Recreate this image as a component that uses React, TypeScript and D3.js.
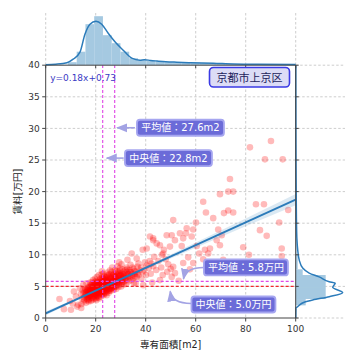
import React from 'react';
import * as d3 from 'd3';

// 専有面積[m2], 賃料[万円] — listings
const listings: [number, number][] = [
  [5.5, 3.0], [7.3, 1.4], [10.1, 1.3], [9.7, 2.7], [12.1, 3.4], [11.3, 4.2], [13.0, 2.1], [13.7, 4.7], [12.6, 1.8], [10.8, 2.3], [14.2, 1.6],
  [14.3, 2.2], [14.6, 3.1], [14.1, 3.8], [14.8, 4.4], [15.2, 2.6], [15.5, 3.3], [15.1, 3.9], [15.7, 4.6], [15.0, 5.2], [15.4, 2.9], [15.8, 3.6],
  [16.1, 2.4], [16.4, 3.0], [16.6, 3.6], [16.2, 4.1], [16.8, 4.8], [16.3, 5.5], [16.5, 3.3], [16.9, 3.9], [16.0, 4.5],
  [17.2, 2.9], [17.5, 3.4], [17.1, 3.8], [17.6, 4.3], [17.3, 4.9], [17.8, 5.6], [17.4, 3.1], [17.0, 4.6], [17.7, 4.0], [17.9, 5.2], [17.2, 2.6],
  [18.1, 2.7], [18.4, 3.2], [18.6, 3.7], [18.2, 4.0], [18.8, 4.4], [18.3, 4.9], [18.5, 5.3], [18.9, 6.0], [18.0, 3.5], [18.7, 4.7], [18.4, 4.2], [18.6, 5.7], [18.2, 3.9],
  [19.1, 3.0], [19.5, 3.5], [19.3, 3.9], [19.8, 4.2], [19.0, 4.6], [19.6, 5.0], [19.2, 5.5], [19.7, 6.2], [19.4, 4.4], [19.9, 3.3], [19.5, 4.8], [19.1, 5.2], [19.8, 3.7], [19.3, 4.1],
  [20.0, 3.1], [20.3, 3.6], [20.6, 4.0], [20.2, 4.3], [20.8, 4.7], [20.4, 5.1], [20.7, 5.4], [20.1, 5.9], [20.5, 6.5], [20.9, 4.5], [20.3, 3.8], [20.6, 4.9], [20.0, 4.4], [20.8, 5.2], [20.2, 2.8],
  [21.2, 3.3], [21.5, 3.8], [21.0, 4.1], [21.7, 4.5], [21.4, 4.8], [21.8, 5.2], [21.1, 5.6], [21.6, 6.1], [21.3, 6.8], [21.9, 4.3], [21.5, 5.0], [21.2, 4.6], [21.7, 5.4], [21.0, 3.6],
  [22.1, 3.4], [22.5, 3.9], [22.3, 4.3], [22.8, 4.6], [22.0, 5.0], [22.6, 5.3], [22.2, 5.7], [22.9, 6.2], [22.4, 6.9], [22.7, 4.8], [22.1, 5.5], [22.5, 7.4], [22.8, 4.1], [22.3, 5.9],
  [23.2, 3.6], [23.6, 4.1], [23.1, 4.5], [23.8, 4.9], [23.4, 5.2], [23.9, 5.5], [23.3, 5.9], [23.7, 6.4], [23.0, 7.0], [23.5, 5.0], [23.2, 4.7], [23.8, 5.7], [23.5, 3.9],
  [24.1, 3.9], [24.5, 4.4], [24.8, 4.8], [24.3, 5.1], [24.6, 5.4], [24.0, 5.8], [24.9, 6.2], [24.4, 6.6], [24.7, 7.2], [24.2, 5.6], [24.6, 4.2], [24.1, 6.0],
  [25.2, 4.0], [25.5, 4.6], [25.8, 5.0], [25.1, 5.3], [25.6, 5.7], [25.3, 6.0], [25.9, 6.4], [25.4, 6.9], [25.7, 7.5], [25.0, 5.5], [25.6, 4.3],
  [26.1, 4.3], [26.5, 4.8], [26.8, 5.2], [26.3, 5.6], [26.7, 5.9], [26.2, 6.3], [26.9, 6.7], [26.4, 7.3], [26.6, 8.0], [26.0, 5.0],
  [27.3, 4.5], [27.6, 5.0], [27.1, 5.4], [27.8, 5.8], [27.4, 6.1], [27.9, 6.5], [27.2, 7.0], [27.7, 7.6], [27.5, 5.6],
  [28.2, 4.6], [28.6, 5.2], [28.1, 5.7], [28.8, 6.0], [28.4, 6.4], [28.9, 6.9], [28.3, 7.4], [28.7, 8.2], [28.5, 5.4],
  [29.1, 4.9], [29.5, 5.5], [29.8, 5.9], [29.3, 6.3], [29.6, 6.8], [29.0, 7.3], [29.7, 7.9], [29.4, 8.8],
  [30.2, 5.0], [30.6, 5.7], [30.1, 6.1], [30.8, 6.6], [30.4, 7.1], [30.7, 7.7], [30.3, 8.5], [30.9, 6.3],
  [31.3, 5.3], [31.7, 5.9], [31.1, 6.4], [31.5, 7.0], [31.9, 7.6], [32.2, 5.4], [32.6, 6.1], [32.1, 6.7], [32.8, 7.3], [32.4, 8.0], [32.7, 9.2],
  [33.3, 5.8], [33.7, 6.4], [33.1, 7.0], [33.5, 7.6], [33.9, 8.4], [34.2, 6.0], [34.6, 6.6], [34.1, 7.2], [34.8, 8.0], [34.4, 10.2],
  [35.3, 5.5], [35.0, 6.3], [35.6, 7.0], [35.2, 7.8], [35.8, 6.5], [36.4, 6.5], [36.1, 7.3], [36.7, 8.1], [36.4, 9.4], [36.0, 5.5], [37.2, 6.8], [37.6, 7.6], [37.1, 8.6],
  [38.3, 6.2], [38.7, 7.2], [38.2, 8.0], [38.8, 10.8], [39.0, 5.2], [39.4, 7.5], [39.7, 8.8], [40.1, 6.8], [40.4, 8.3], [40.4, 11.0],
  [41.2, 7.9], [41.6, 9.0], [42.0, 7.0], [42.3, 8.6], [41.7, 12.9], [43.0, 8.2], [43.0, 12.3], [43.4, 9.7], [44.2, 7.6], [44.4, 11.8], [45.1, 9.0], [45.7, 6.0], [45.7, 11.5],
  [46.2, 8.0], [46.5, 10.0], [47.0, 10.2], [47.3, 10.8], [48.0, 9.3], [48.4, 13.1], [48.6, 7.3], [49.0, 8.5], [49.7, 11.3], [50.0, 7.8], [50.4, 13.1], [50.4, 6.5],
  [53.2, 5.9], [46.8, 6.8], [42.6, 5.6], [43.0, 12.6],
  [51.0, 15.5], [51.0, 8.1], [51.7, 12.3], [51.7, 7.1], [53.7, 13.4], [54.4, 11.4], [55.0, 12.6], [55.0, 8.7], [56.1, 13.4], [56.4, 14.2],
  [57.0, 9.6], [57.7, 7.7], [58.4, 12.9], [59.0, 14.0], [59.0, 8.7], [60.1, 15.1], [60.4, 11.4], [61.4, 10.2], [63.0, 18.4], [63.0, 9.3],
  [63.7, 10.8], [64.1, 16.7], [65.0, 10.2], [65.7, 11.0], [67.0, 15.8], [68.4, 12.3], [69.0, 14.0], [69.7, 19.6], [69.7, 11.5], [70.4, 13.1],
  [71.0, 9.2], [71.3, 16.6], [73.0, 20.0], [73.0, 17.0], [73.7, 22.0], [75.0, 20.0], [75.0, 16.7], [79.0, 11.2], [81.3, 10.0], [81.7, 27.0],
  [84.1, 18.0], [85.7, 13.9], [87.3, 18.0], [87.7, 25.1], [88.4, 13.0], [90.1, 28.0], [93.4, 15.1], [94.4, 11.0], [94.4, 9.8], [94.8, 25.1], [97.0, 17.1],
  [16.7, 4.3], [17.4, 4.5], [17.9, 3.6], [18.3, 4.5], [18.9, 5.0], [18.1, 5.1], [19.2, 4.8], [19.6, 4.0], [19.9, 5.4], [19.4, 3.8],
  [20.4, 4.2], [20.1, 4.8], [20.7, 3.5], [20.5, 5.7], [20.9, 5.0], [21.3, 4.4], [21.6, 4.9], [21.9, 5.7], [21.1, 5.0], [21.4, 4.0],
  [21.8, 3.9], [22.2, 4.5], [22.6, 4.9], [22.4, 5.2], [22.9, 5.6], [22.0, 4.2], [22.7, 6.4], [23.3, 4.3], [23.1, 5.4], [23.6, 4.6],
  [23.9, 6.1], [23.4, 6.6], [24.3, 4.6], [24.8, 5.2], [24.5, 5.9], [24.9, 4.6], [24.2, 6.4], [25.4, 4.8], [25.1, 5.8], [25.7, 6.2],
  [25.3, 4.4], [25.9, 5.4], [26.4, 5.4], [26.2, 4.6], [26.9, 6.0], [26.6, 6.5], [27.0, 4.9], [27.4, 5.3], [27.8, 6.3], [27.1, 6.8],
  [28.0, 5.0], [28.3, 5.9], [28.7, 6.6], [29.2, 5.2], [29.9, 6.1], [29.5, 7.0], [30.5, 5.4], [30.0, 6.8], [31.0, 5.7], [31.4, 6.7],
  [32.0, 6.3], [32.9, 6.9], [19.0, 3.2], [18.6, 2.9], [17.6, 3.7], [16.9, 3.4], [20.6, 3.2], [21.4, 3.1], [23.0, 3.8], [24.4, 3.6],
  [15.6, 4.1], [16.2, 3.7], [16.8, 2.8], [17.3, 4.1], [17.8, 4.8], [18.5, 3.4], [18.8, 3.9], [19.3, 4.6], [19.7, 5.6], [20.3, 4.6],
  [20.8, 4.1], [20.2, 5.4], [21.2, 5.3], [21.7, 4.7], [21.5, 5.9], [22.4, 3.7], [22.8, 5.1], [22.1, 6.3], [23.4, 4.8], [23.7, 5.3],
  [23.2, 6.2], [24.0, 4.3], [24.6, 5.0], [24.3, 5.5], [24.7, 6.8], [25.5, 5.2], [25.2, 6.5], [25.8, 4.7], [26.3, 5.1], [26.7, 5.6],
  [26.1, 7.0], [27.2, 5.8], [27.6, 6.6], [27.3, 4.8], [28.1, 6.2], [28.6, 5.6], [28.2, 7.1], [29.0, 5.8], [29.4, 6.6], [29.8, 7.5],
  [30.3, 6.0], [30.7, 6.9], [31.2, 7.3], [31.8, 6.2], [32.5, 7.7], [33.2, 6.6], [33.8, 7.3], [34.5, 6.9], [35.5, 7.4], [36.8, 7.0],
  [19.8, 4.5], [20.5, 4.4], [21.3, 4.2], [22.5, 4.5], [23.8, 5.0], [25.0, 5.1], [26.0, 5.8], [18.0, 4.3], [17.0, 3.3], [16.4, 4.4],
];

// marginal histogram of area (bin edges + counts)
const areaBinEdges = [5.4, 8.9, 12.4, 15.9, 19.4, 22.9, 26.4, 29.9, 33.4, 36.9, 40.4, 43.9, 47.4, 50.9, 54.4, 57.9, 61.4, 64.9, 68.4, 71.9, 75.4, 78.9, 82.4, 85.9, 89.4, 92.9, 96.4, 99.9];
const areaCounts = [1, 6, 27, 82, 98, 60, 44, 27, 14, 10, 9, 8, 6, 6, 5, 4, 4, 3, 3, 2, 2, 2, 1.5, 1, 1.5, 1, 1];
const areaKde: [number, number][] = [
  [0, 1], [4, 2], [8.5, 5], [11, 12], [13.7, 26], [15.7, 62], [17.7, 82], [20.1, 88], [22.4, 82], [25, 64], [27.7, 47], [31, 30],
  [34.4, 14], [37.7, 10], [39.5, 11], [42, 9.5], [44.5, 8.4], [48, 7], [52.4, 6], [58, 5], [67, 4], [75, 2.4], [85, 1.8], [100, 1.6],
];

// marginal histogram of rent
const rentBinEdges = [2.0, 3.0, 4.9, 6.8, 7.7, 10.1, 12.5, 14.9];
const rentCounts = [20, 60, 60, 14, 4, 2, 1];
const rentKde: [number, number][] = [
  [0, 0.2], [1.6, 0.5], [1.8, 4], [2.5, 17], [2.85, 34], [3.37, 67], [4.0, 94], [4.86, 74], [5.5, 79], [5.75, 67], [6.5, 47],
  [7.1, 27], [7.9, 14], [9.2, 7], [10.8, 4], [12.5, 2.4], [15, 1.6], [20, 1], [25, 0.6], [30, 0.4], [40, 0.2],
];

// regression y = 0.18x + 0.73 and its confidence band half-width
const slope = 0.18;
const intercept = 0.73;
const ciX = [0, 10, 20, 30, 40, 50, 60, 70, 80, 90, 100];
const ciHalf = [0.3, 0.2, 0.12, 0.12, 0.2, 0.3, 0.4, 0.5, 0.62, 0.75, 0.88];

const meanArea = 27.6;
const medianArea = 22.8;
const meanRent = 5.8;
const medianRent = 5.0;

const xTicks = [0, 20, 40, 60, 80, 100];
const yTicks = [0, 5, 10, 15, 20, 25, 30, 35, 40];

const FONT = "'DejaVu Sans', 'Noto Sans CJK JP', sans-serif";
const C0 = '#2b7bba';
const HIST = '#a5c9e1';
const GRID = '#b8b8b8';
const SPINE = '#444';

export default function App() {
  const x = d3.scaleLinear().domain([0, 100]).range([45.7, 295.7]);
  const y = d3.scaleLinear().domain([0, 40]).range([318, 65.2]);
  const topH = d3.scaleLinear().domain([0, 100]).range([65.2, 15.2]);
  const rightW = d3.scaleLinear().domain([0, 100]).range([295.7, 345.7]);
  const topEdge = 13;
  const rightEdge = 345;

  const kdeTop = d3.line<[number, number]>().x(d => x(d[0])).y(d => topH(d[1])).curve(d3.curveMonotoneX);
  const kdeRight = d3.line<[number, number]>().x(d => rightW(d[1])).y(d => y(d[0])).curve(d3.curveMonotoneY);
  const band = d3.area<number>()
    .x((d, i) => x(ciX[i]))
    .y0((d, i) => y(slope * ciX[i] + intercept - d))
    .y1((d, i) => y(slope * ciX[i] + intercept + d));

  const boxes = [
    { text: '平均値：27.6m2', cx: 53.9, cy: 30.1, w: 87 },
    { text: '中央値：22.8m2', cx: 49.1, cy: 25.3, w: 87 },
    { text: '平均値：5.8万円', cx: 80.1, cy: 8.0, w: 84 },
    { text: '中央値：5.0万円', cx: 75.1, cy: 2.14, w: 84 },
  ];

  return (
    <svg width={360} height={360} style={{ position: 'absolute', left: 0, top: 0, background: '#fff' }} fontFamily={FONT}>
      <defs>
        <marker id="head" viewBox="0 0 10 10" refX="9" refY="5" markerWidth="7" markerHeight="7" orient="auto">
          <path d="M0,1 L10,5 L0,9 z" fill="#a3a3e4" />
        </marker>
        <clipPath id="plot">
          <rect x={x(0)} y={y(40)} width={x(100) - x(0)} height={y(0) - y(40)} />
        </clipPath>
      </defs>

      {/* grid */}
      <g stroke={GRID} strokeWidth={0.7} strokeDasharray="2.5,2">
        {xTicks.map(t => (
          <line key={'gx' + t} x1={x(t)} x2={x(t)} y1={topEdge} y2={t === 0 || t === 100 ? y(40) : y(0)} />
        ))}
        {yTicks.map(t => (
          <line key={'gy' + t} x1={t === 0 || t === 40 ? x(100) : x(0)} x2={rightEdge} y1={y(t)} y2={y(t)} />
        ))}
      </g>

      {/* top marginal */}
      {areaCounts.map((c, i) => (
        <rect key={'ha' + i} x={x(areaBinEdges[i])} width={x(areaBinEdges[i + 1]) - x(areaBinEdges[i])}
          y={topH(c)} height={topH(0) - topH(c)} fill={HIST} />
      ))}
      <path d={kdeTop(areaKde) || ''} fill="none" stroke={C0} strokeWidth={1.5} />

      {/* right marginal */}
      {rentCounts.map((c, i) => (
        <rect key={'hr' + i} y={y(rentBinEdges[i + 1])} height={y(rentBinEdges[i]) - y(rentBinEdges[i + 1])}
          x={rightW(0)} width={rightW(c) - rightW(0)} fill={HIST} />
      ))}
      <path d={kdeRight(rentKde) || ''} fill="none" stroke={C0} strokeWidth={1.5} />

      {/* scatter */}
      <g clipPath="url(#plot)">
        {listings.map((d, i) => (
          <circle key={i} cx={x(d[0])} cy={y(d[1])} r={3.3} fill="#ff0000" fillOpacity={0.27} />
        ))}
        <path d={band(ciHalf) || ''} fill={C0} fillOpacity={0.17} />
        <line x1={x(0)} y1={y(intercept)} x2={x(100)} y2={y(slope * 100 + intercept)} stroke={C0} strokeWidth={2} />
      </g>

      {/* mean / median lines */}
      <g strokeWidth={1.1} strokeDasharray="3,2">
        <line x1={x(medianArea)} x2={x(medianArea)} y1={y(0)} y2={y(40)} stroke="#e046e6" />
        <line x1={x(meanArea)} x2={x(meanArea)} y1={y(0)} y2={y(40)} stroke="#e046e6" />
        <line x1={x(0)} x2={x(100)} y1={y(meanRent)} y2={y(meanRent)} stroke="#e046e6" />
        <line x1={x(0)} x2={x(100)} y1={y(medianRent)} y2={y(medianRent)} stroke="#f02a2a" />
      </g>

      {/* spines */}
      <g stroke={SPINE} strokeWidth={1} fill="none">
        <line x1={x(0)} x2={x(0)} y1={y(0)} y2={y(40)} />
        <line x1={x(0)} x2={x(100)} y1={y(0)} y2={y(0)} />
        <line x1={x(100)} x2={x(100)} y1={y(0)} y2={y(40)} />
        <line x1={x(0)} x2={x(100)} y1={y(40)} y2={y(40)} />
        {xTicks.map(t => (
          <g key={'tx' + t}>
            <line x1={x(t)} x2={x(t)} y1={y(0)} y2={y(0) + 3.5} />
            <line x1={x(t)} x2={x(t)} y1={y(40)} y2={y(40) + 3} />
          </g>
        ))}
        {yTicks.map(t => (
          <g key={'ty' + t}>
            <line x1={x(0) - 3.5} x2={x(0)} y1={y(t)} y2={y(t)} />
            <line x1={x(100)} x2={x(100) + 3} y1={y(t)} y2={y(t)} />
          </g>
        ))}
      </g>

      {/* tick labels */}
      <g fontSize={9} fill="#333">
        {xTicks.map(t => (
          <text key={'lx' + t} x={x(t)} y={y(0) + 14} textAnchor="middle">{t}</text>
        ))}
        {yTicks.map(t => (
          <text key={'ly' + t} x={x(0) - 6} y={y(t) + 3.2} textAnchor="end">{t}</text>
        ))}
      </g>
      <text x={(x(0) + x(100)) / 2} y={348} textAnchor="middle" fontSize={9.6} fill="#222">専有面積[m2]</text>
      <text transform={`translate(21,${(y(0) + y(40)) / 2}) rotate(-90)`} textAnchor="middle" fontSize={9.6} fill="#222">賃料[万円]</text>

      {/* equation + area label */}
      <text x={x(1.8)} y={y(40) + 15.5} fontSize={9} fill="#3a3ac4">y=0.18x+0.73</text>
      <rect x={209.5} y={67.5} width={80} height={19.5} rx={4} fill="#dcdcf6" stroke="#3a3ae4" strokeWidth={1.6} />
      <text x={249.5} y={81.5} textAnchor="middle" fontSize={11} fill="#1c1c5c">京都市上京区</text>

      {/* annotations */}
      <g fill="none" stroke="#a3a3e4" strokeWidth={1.6} markerEnd="url(#head)">
        <line x1={x(35.7)} y1={y(30.1)} x2={x(28.6)} y2={y(30.1)} />
        <line x1={x(31.2)} y1={y(25.3)} x2={x(24.4)} y2={y(25.3)} />
      </g>
      <path d={`M${x(63.2)},${y(8.0)} Q${x(56)},${y(8.0)} ${x(55.1)},${y(6.2)}`} fill="none" stroke="#a3a3e4" strokeWidth={1.6} markerEnd="url(#head)" />
      <path d={`M${x(58.2)},${y(2.3)} Q${x(50.5)},${y(2.3)} ${x(49.8)},${y(4.2)}`} fill="none" stroke="#a3a3e4" strokeWidth={1.6} markerEnd="url(#head)" />
      {boxes.map(b => (
        <g key={b.text}>
          <rect x={x(b.cx) - b.w / 2} y={y(b.cy) - 8} width={b.w} height={16} rx={3}
            fill="#6b6bd8" stroke="#a6a6f0" strokeWidth={1.8} />
          <text x={x(b.cx)} y={y(b.cy) + 3.6} textAnchor="middle" fontSize={10} fill="#fff">{b.text}</text>
        </g>
      ))}
    </svg>
  );
}
